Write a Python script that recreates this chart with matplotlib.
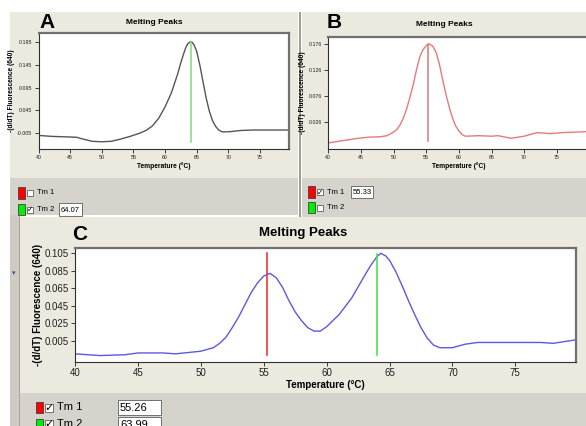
import matplotlib
matplotlib.use('Agg')
import matplotlib.pyplot as plt
from matplotlib.patches import Rectangle

# donnees (temperature en degres C, -(d/dT) fluorescence)
temp_a = [40, 42, 44, 46, 47, 48.5, 50, 51.5, 53, 54.5, 56, 57, 58, 59, 60, 61, 62, 62.5, 63, 63.3, 63.6, 64, 64.3, 64.6, 65, 65.5, 66, 66.5, 67, 67.5, 68, 68.5, 69, 70, 72, 74, 76, 78, 79.6]
val_a = [-0.011, -0.013, -0.014, -0.015, -0.019, -0.024, -0.025, -0.024, -0.019, -0.013, -0.006, 0.000, 0.010, 0.027, 0.052, 0.083, 0.125, 0.150, 0.172, 0.184, 0.192, 0.196, 0.195, 0.189, 0.175, 0.145, 0.108, 0.072, 0.043, 0.022, 0.009, 0.001, -0.003, -0.003, 0.000, 0.001, 0.001, 0.001, 0.001]

temp_b = [40, 42, 44, 46, 48, 49, 50, 50.5, 51, 51.5, 52, 52.5, 53, 53.5, 54, 54.5, 55, 55.5, 56, 56.5, 57, 57.5, 58, 58.5, 59, 59.5, 60, 60.5, 61, 63, 65, 66, 68, 70, 72, 74, 76, 78, 80]
val_b = [-0.015, -0.011, -0.007, -0.004, -0.003, -0.001, 0.006, 0.011, 0.020, 0.033, 0.051, 0.073, 0.097, 0.126, 0.151, 0.165, 0.173, 0.176, 0.172, 0.160, 0.138, 0.108, 0.080, 0.055, 0.034, 0.018, 0.008, 0.001, -0.002, -0.001, -0.002, -0.001, -0.006, -0.002, 0.005, 0.003, 0.005, 0.006, 0.007]

temp_c = [40, 42, 44, 45, 47, 48, 50, 51, 51.5, 52, 52.5, 53, 53.5, 54, 54.5, 55, 55.5, 56, 56.5, 57, 57.5, 58, 58.5, 59, 59.5, 60, 61, 62, 63, 63.5, 64, 64.3, 64.7, 65, 65.5, 66, 66.5, 67, 67.5, 68, 68.5, 69, 70, 71, 72, 75, 77, 78, 79.8]
val_c = [-0.010, -0.012, -0.011, -0.009, -0.009, -0.010, -0.007, -0.003, 0.002, 0.009, 0.020, 0.032, 0.046, 0.060, 0.071, 0.079, 0.082, 0.077, 0.066, 0.051, 0.038, 0.028, 0.020, 0.016, 0.016, 0.021, 0.035, 0.054, 0.079, 0.091, 0.101, 0.105, 0.102, 0.097, 0.084, 0.068, 0.051, 0.035, 0.020, 0.008, 0.000, -0.003, -0.003, 0.001, 0.003, 0.003, 0.003, 0.002, 0.006]

tm_a = [None, '64.07']
tm_b = ['55.33', None]
tm_c = ['55.26', '63.99']

x_ticks = [40, 45, 50, 55, 60, 65, 70, 75]
y_ticks_a = [-0.005, 0.045, 0.095, 0.145, 0.195]
y_ticks_b = [0.026, 0.076, 0.126, 0.176]
y_ticks_c = [0.005, 0.025, 0.045, 0.065, 0.085, 0.105]

W, H = 586, 426
BEIGE = '#ece9df'
GRIS = '#d6d3cc'
fig = plt.figure(figsize=(W / 100, H / 100), dpi=100)
fig.patch.set_facecolor('white')


def boite(x0, y0, x1, y1):
    # pixels (origine en haut a gauche) -> fraction de figure
    return [x0 / W, 1 - y1 / H, (x1 - x0) / W, (y1 - y0) / H]


def rect(x0, y0, x1, y1, fc, ec='none', lw=0.8, z=-1):
    b = boite(x0, y0, x1, y1)
    fig.patches.append(Rectangle((b[0], b[1]), b[2], b[3], transform=fig.transFigure,
                                 facecolor=fc, edgecolor=ec, linewidth=lw, zorder=z))


def txt(x, y, s, **kw):
    fig.text(x / W, 1 - y / H, s, **kw)


# fonds des panneaux
rect(10, 12, 298, 178, BEIGE)
rect(10, 178, 298, 215, GRIS)
rect(298.5, 12, 300.5, 217, '#a09c94')
rect(302, 12, 586, 178, BEIGE)
rect(302, 178, 586, 217, GRIS)
rect(10, 215, 19, 426, '#cfcbc3')
rect(19, 215, 20, 426, '#a8a49c')
rect(20, 217, 586, 393, BEIGE)
rect(20, 393, 586, 426, GRIS)
txt(14, 273, '▾', fontsize=5, color='#3050a0', ha='center', va='center')

petit = ['Liberation Sans Narrow', 'Liberation Sans', 'DejaVu Sans']
arial = ['Liberation Sans', 'DejaVu Sans']


def graphe(pos, t, v, couleur, xlim, ylim, yticks, fs, lab_fs, tit_fs, famille, tit_y, lettre, lettre_xy, ylab_x):
    ax = fig.add_axes(boite(*pos))
    ax.set_facecolor('white')
    ax.plot(t, v, color=couleur, lw=1.0)
    ax.set_xlim(xlim)
    ax.set_ylim(ylim)
    ax.set_xticks(x_ticks)
    ax.set_yticks(yticks)
    ax.set_yticklabels([('%.3f' % y) for y in yticks], fontfamily=famille)
    ax.set_xticklabels([str(x) for x in x_ticks], fontfamily=famille)
    ax.tick_params(labelsize=fs, length=3, width=0.6, pad=1.5, colors='#202020')
    for s in ['left', 'bottom']:
        ax.spines[s].set_color('#303030')
        ax.spines[s].set_linewidth(0.8)
    for s in ['top', 'right']:
        ax.spines[s].set_color('#707070')
        ax.spines[s].set_linewidth(1.6)
    ax.set_xlabel('Temperature (°C)', fontsize=lab_fs, fontweight='bold', fontfamily=famille, labelpad=1.5)
    ax.set_ylabel('-(d/dT) Fluorescence (640)', fontsize=lab_fs, fontweight='bold', fontfamily=famille)
    ax.yaxis.set_label_coords(ylab_x, 0.5)
    txt(tit_y[0], tit_y[1], 'Melting Peaks', fontsize=tit_fs, fontweight='bold', ha='center', va='center', fontfamily=famille)
    txt(lettre_xy[0], lettre_xy[1], lettre, fontsize=15, fontweight='bold', ha='left', va='center', fontfamily=arial)
    return ax


ax_a = graphe((38.5, 33, 289, 149), temp_a, val_a, '#555555', (40, 79.6), (-0.041, 0.2156), y_ticks_a,
              3.8, 4.8, 6, petit, (154, 22), 'A', (39, 23), -0.092)
ax_a.plot([64.07, 64.07], [-0.026, 0.196], color='#7fdc7f', lw=1.1)

ax_b = graphe((328.3, 37.3, 590, 149), temp_b, val_b, '#e57a7a', (40, 80.08), (-0.0267, 0.189), y_ticks_b,
              3.8, 4.8, 6, petit, (444, 24), 'B', (327, 23), -0.086)
ax_b.plot([55.33, 55.33], [-0.011, 0.176], color='#d87878', lw=1.1)

ax_c = graphe((75, 247.7, 575.7, 361.7), temp_c, val_c, '#5a5ae0', (40, 79.8), (-0.019, 0.1114), y_ticks_c,
              7, 7, 9.5, arial, (303, 233), 'C', (72, 235), -0.064)
ax_c.plot([55.26, 55.26], [-0.0114, 0.105], color='#e83a3a', lw=1.2)
ax_c.plot([63.99, 63.99], [-0.0114, 0.104], color='#4ee04e', lw=1.2)


def legende(x, y, dy, vals, carre, cb, fs, famille, bx, bw, bh):
    for i, (nom, col) in enumerate([('Tm 1', '#ff0000'), ('Tm 2', '#00ee00')]):
        yy = y + i * dy
        rect(x, yy - carre / 2, x + carre * 0.65, yy + carre / 2, col, '#404040', 0.6, 2)
        cx = x + carre * 0.65 + 2
        rect(cx, yy - cb / 2, cx + cb, yy + cb / 2, 'white', '#606060', 0.6, 2)
        if vals[i] is not None:
            txt(cx + cb / 2, yy, '✓', fontsize=fs, ha='center', va='center', fontweight='bold', zorder=3)
            rect(bx, yy - bh / 2, bx + bw, yy + bh / 2, 'white', '#707070', 0.7, 2)
            txt(bx + 2, yy + 0.5, vals[i], fontsize=fs, ha='left', va='center', fontfamily=famille, zorder=3)
        txt(cx + cb + 4, yy, nom, fontsize=fs, ha='left', va='center', fontfamily=famille)


legende(18, 193, 16.5, tm_a, 11, 6, 5.5, petit, 59, 23, 13)
legende(308, 192, 16, tm_b, 11, 6, 5.5, petit, 351, 22, 12)
legende(36, 407.5, 16.5, tm_c, 11, 8, 8, arial, 118, 43, 15)

fig.savefig('out.png', dpi=100, facecolor=fig.get_facecolor())
